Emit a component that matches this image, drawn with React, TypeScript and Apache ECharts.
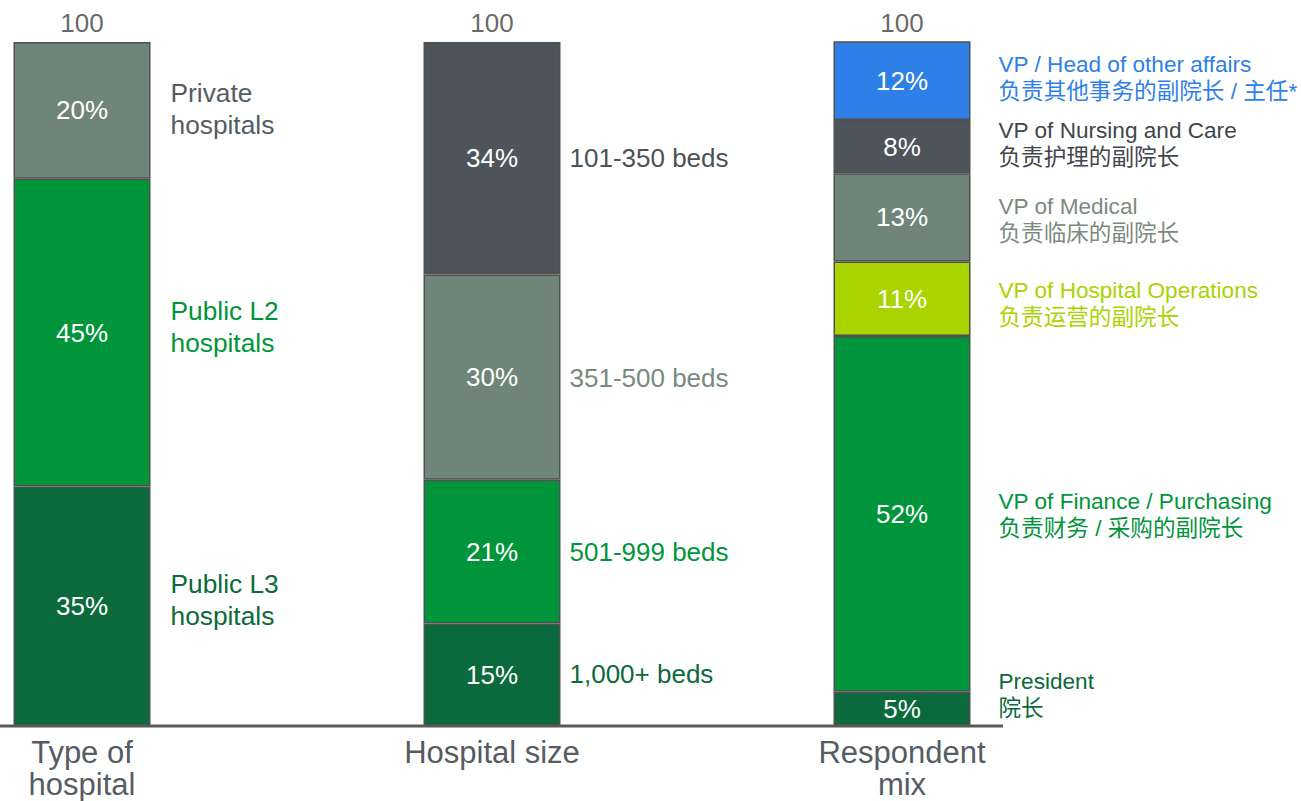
import React, { useEffect, useRef } from 'react';
import * as echarts from 'echarts';

const categories = ['Type of\nhospital', 'Hospital size', 'Respondent\nmix'];
const totals = [100, 100, 100];

const typeNames = ['Public L3\nhospitals', 'Public L2\nhospitals', 'Private\nhospitals'];
const typeValues = [35, 45, 20];

const sizeNames = ['1,000+ beds', '501-999 beds', '351-500 beds', '101-350 beds'];
const sizeValues = [15, 21, 30, 34];

const roleNames = [
  'President\n院长',
  'VP of Finance / Purchasing\n负责财务 / 采购的副院长',
  'VP of Hospital Operations\n负责运营的副院长',
  'VP of Medical\n负责临床的副院长',
  'VP of Nursing and Care\n负责护理的副院长',
  'VP / Head of other affairs\n负责其他事务的副院长 / 主任*',
];
const roleValues = [5, 52, 10.9, 12.9, 7.8, 11.5];

const FONT = "'Liberation Sans', Arial, 'Noto Sans CJK SC', sans-serif";

const DARK_GREEN = '#0B6A3C';
const GREEN = '#00953A';
const GRAY_GREEN = '#708579';
const SLATE = '#4D555B';
const BLUE = '#2F7FE8';
const LIME = '#AAD400';

const groups = [
  {
    names: typeNames,
    values: typeValues,
    fills: [DARK_GREEN, GREEN, GRAY_GREEN],
    textColors: [DARK_GREEN, GREEN, '#555D63'],
    offsets: [-6, -6, -1],
    fontSize: 26.3,
    lineHeight: 32,
    distance: 20,
  },
  {
    names: sizeNames,
    values: sizeValues,
    fills: [DARK_GREEN, GREEN, GRAY_GREEN, SLATE],
    textColors: [DARK_GREEN, GREEN, '#788A7E', '#4A5258'],
    offsets: [-1, 0, 1, 0],
    fontSize: 26,
    lineHeight: 32,
    distance: 9,
  },
  {
    names: roleNames,
    values: roleValues,
    fills: [DARK_GREEN, GREEN, LIME, GRAY_GREEN, SLATE, BLUE],
    textColors: [DARK_GREEN, GREEN, LIME, '#7B8B80', '#3F464C', BLUE],
    offsets: [-14, 1.5, 5, 2.5, -3, -3],
    fontSize: 22.6,
    lineHeight: 27,
    distance: 28,
  },
];

export default function App() {
  const ref = useRef<HTMLDivElement>(null);

  useEffect(() => {
    if (!ref.current) return;
    const chart = echarts.init(ref.current, undefined, { renderer: 'svg' });

    const series: any[] = [];
    groups.forEach((g, gi) => {
      g.values.forEach((v, i) => {
        const data = categories.map((_, ci) => (ci === gi ? v : '-'));
        series.push({
          type: 'bar',
          stack: 'main',
          xAxisIndex: 0,
          yAxisIndex: 0,
          barWidth: 137,
          clip: false,
          data,
          silent: true,
          itemStyle: { color: g.fills[i], borderColor: '#505050', borderWidth: 1.5 },
          label: {
            show: true,
            position: 'inside',
            formatter: () => `${Math.round(v)}%`,
            color: '#ffffff',
            fontSize: 26,
            fontFamily: FONT,
          },
        });
        series.push({
          type: 'bar',
          stack: 'side',
          xAxisIndex: 1,
          yAxisIndex: 0,
          barWidth: 137,
          clip: false,
          data,
          silent: true,
          itemStyle: { color: 'rgba(0,0,0,0)', borderWidth: 0 },
          label: {
            show: true,
            position: 'right',
            distance: g.distance,
            offset: [0, g.offsets[i]],
            formatter: () => g.names[i],
            color: g.textColors[i],
            fontSize: g.fontSize,
            lineHeight: g.lineHeight,
            fontFamily: FONT,
            align: 'left',
          },
        });
      });
    });

    series.push({
      type: 'scatter',
      xAxisIndex: 0,
      yAxisIndex: 0,
      data: totals,
      symbolSize: 1,
      clip: false,
      silent: true,
      itemStyle: { color: 'rgba(0,0,0,0)' },
      label: {
        show: true,
        position: 'top',
        distance: 6,
        formatter: (p: any) => String(p.value),
        color: '#404040',
        fontSize: 26,
        lineHeight: 26,
        fontFamily: FONT,
      },
    });

    chart.setOption({
      animation: false,
      grid: {
        left: 82,
        right: 399,
        top: 42,
        bottom: 75,
        containLabel: false,
        outerBoundsMode: 'none',
      },
      xAxis: [
        {
          type: 'category',
          data: categories,
          boundaryGap: false,
          axisLine: { show: false },
          axisTick: { show: false },
          splitLine: { show: false },
          axisLabel: {
            interval: 0,
            margin: 10,
            fontSize: 31,
            lineHeight: 32,
            color: '#555C63',
            fontFamily: FONT,
          },
        },
        {
          type: 'category',
          data: categories,
          boundaryGap: false,
          show: false,
          position: 'bottom',
        },
      ],
      yAxis: {
        type: 'value',
        min: 0,
        max: 100,
        show: false,
        splitLine: { show: false },
      },
      graphic: [
        {
          type: 'line',
          z: 100,
          shape: { x1: 0, y1: 726, x2: 1003, y2: 726 },
          style: { stroke: '#595959', lineWidth: 3 },
        },
      ],
      series,
    });

    return () => chart.dispose();
  }, []);

  return (
    <div
      ref={ref}
      style={{ position: 'absolute', left: 0, top: 0, width: 1301, height: 801, background: '#ffffff' }}
    />
  );
}
